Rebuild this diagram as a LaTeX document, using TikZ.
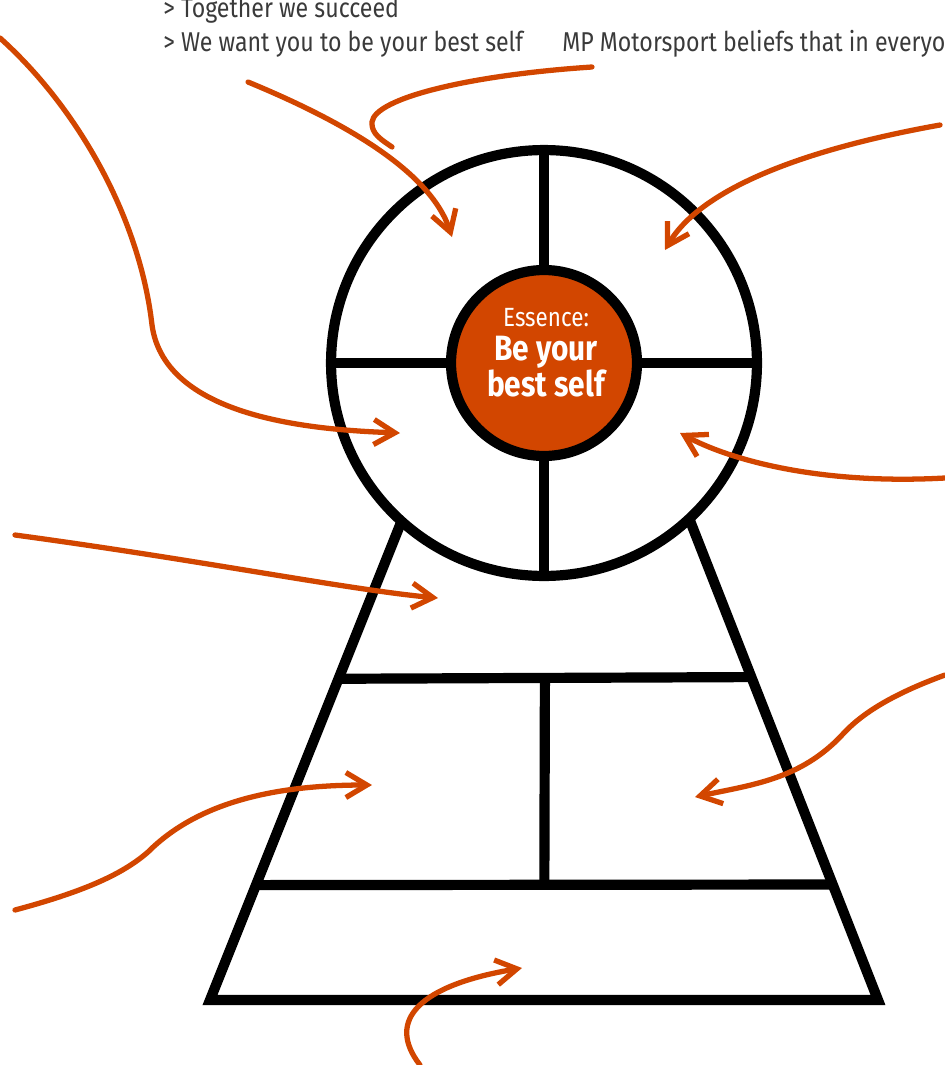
\documentclass[tikz,border=0pt]{standalone}
\usepackage{fontspec}
\setmainfont{Fira Sans}
\newfontfamily\condfont{Fira Sans}[FakeStretch=0.85]
\usepackage{xcolor}
\usepackage{tikz}
\usetikzlibrary{arrows.meta,calc}
\definecolor{essenceorange}{HTML}{D24600}
\definecolor{notegray}{HTML}{3A3A3A}

\begin{document}
\begin{tikzpicture}[x=0.02cm,y=-0.02cm,
  ring/.style={circle,draw=black,line width=5.8pt,minimum size=8.52cm,inner sep=0pt,outer sep=0pt},
  core/.style={circle,draw=black,fill=essenceorange,line width=5.8pt,minimum size=3.72cm,inner sep=0pt,outer sep=0pt},
  essence/.style={align=center,text=white,inner sep=0pt,font=\condfont},
  bar/.style={draw=black,line width=5.8pt,line join=miter},
  note/.style={anchor=base west,text=notegray,inner sep=0pt,font=\condfont\fontsize{15.5}{18}\selectfont},
  pointer/.style={draw=essenceorange,line width=3pt,line cap=round,-{Straight Barb[length=0.42cm,width=0.5cm]}},
  tail/.style={draw=essenceorange,line width=3pt,line cap=round}
]
\useasboundingbox (0,0) rectangle (945,1065);
\clip (0,0) rectangle (945,1065);

\node[note] (together) at (163,17) {> Together we succeed};
\node[note] (bestself) at (163,51) {> We want you to be your best self};
\node[note] (beliefs) at (562,51) {MP Motorsport beliefs that in everyone};

\node[ring] (wheel) at (544,363) {};
\node[core] (core) at (544,363) {};
\node[essence] (essencetext) at (546,353) {\fontsize{15}{15}\selectfont Essence:\\[4pt]
  \fontsize{20}{19}\selectfont\bfseries Be your\\ \fontsize{20}{19}\selectfont\bfseries best self};

\draw[bar] (core.north) -- (wheel.north);
\draw[bar] (core.south) -- (wheel.south);
\draw[bar] (core.west) -- (wheel.west);
\draw[bar] (core.east) -- (wheel.east);

\coordinate (topleft) at (wheel.-132.5);
\coordinate (topright) at (wheel.-47.5);
\coordinate (baseleft) at (210,1000);
\coordinate (baseright) at (878,1000);
\coordinate (midleft) at ($(topleft)!0.329!(baseleft)$);
\coordinate (midright) at ($(topright)!0.329!(baseright)$);
\coordinate (lowleft) at ($(topleft)!0.76!(baseleft)$);
\coordinate (lowright) at ($(topright)!0.76!(baseright)$);

\draw[bar] (topleft) -- (baseleft) -- (baseright) -- (topright);
\draw[bar] (midleft) -- (midright);
\draw[bar] (lowleft) -- (lowright);
\draw[bar] ($(midleft)!0.5!(midright)$) -- ($(lowleft)!0.5!(lowright)$);

\draw[pointer] (0,38) .. controls (80,110) and (140,220) .. (152,325) .. controls (165,420) and (320,430) .. (400,433);
\draw[pointer] (248,82) .. controls (340,120) and (430,170) .. (452,237);
\draw[tail] (592,67) .. controls (470,75) and (375,98) .. (372,122) .. controls (371,134) and (382,140) .. (392,147);
\draw[pointer] (940,125) .. controls (800,150) and (700,190) .. (665,250);
\draw[pointer] (945,478) .. controls (820,485) and (730,460) .. (680,433);
\draw[pointer] (15,535) .. controls (200,560) and (350,590) .. (438,598);
\draw[pointer] (945,675) .. controls (890,695) and (860,715) .. (842,735) .. controls (800,780) and (750,785) .. (695,797);
\draw[pointer] (15,910) .. controls (90,890) and (125,872) .. (148,852) .. controls (200,800) and (280,785) .. (372,785);
\draw[pointer] (420,1065) .. controls (385,1020) and (420,985) .. (522,968);
\end{tikzpicture}
\end{document}
